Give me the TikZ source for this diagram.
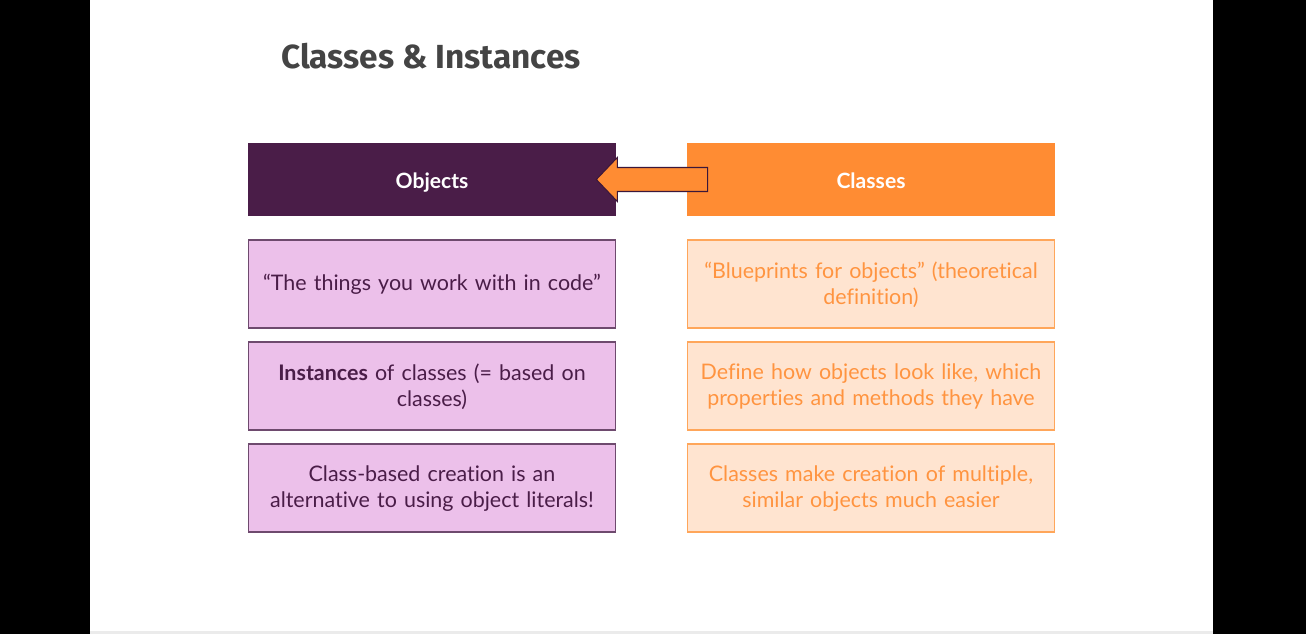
\documentclass[tikz,border=0pt]{standalone}
\usepackage{fontspec}
\setmainfont{Lato}[RawFeature=-liga]
\newfontfamily\titlefont{Fira Sans}
\usetikzlibrary{positioning}

\definecolor{objdark}{HTML}{4A1D48}
\definecolor{objlight}{HTML}{ECC0EA}
\definecolor{objline}{HTML}{6E4A6E}
\definecolor{clsdark}{HTML}{FF8C33}
\definecolor{clslight}{HTML}{FFE4D0}
\definecolor{clsline}{HTML}{FFA65A}
\definecolor{clstext}{HTML}{FF9440}
\definecolor{titlegray}{HTML}{444444}

\tikzset{
  headbox/.style={minimum width=7.36cm, minimum height=1.46cm, inner sep=0pt,
    text height=1.4ex+0.1cm, text depth=0pt,
    text=white, font=\fontsize{12}{14.2}\selectfont\bfseries},
  textbox/.style={line width=0.6pt, minimum width=7.36cm, minimum height=1.76cm,
    text width=7.2cm, align=center, inner sep=0pt,
    execute at end node={\par\vspace{-0.2mm}},
    font=\fontsize{12.2}{14.6}\selectfont},
  objbox/.style={textbox, draw=objline, fill=objlight, text=objdark},
  clsbox/.style={textbox, draw=clsline, fill=clslight, text=clstext}
}

\begin{document}
\begin{tikzpicture}[x=0.02cm, y=-0.02cm]
    \useasboundingbox (0,0) rectangle (1306,634);
    \fill[white] (0,0) rectangle (1306,634);
    \fill[black] (0,0) rectangle (90,634);
    \fill[black] (1213,0) rectangle (1306,634);
    \fill[black!8] (90,631) rectangle (1213,634);

    \node[anchor=base west, text=titlegray, font=\titlefont\fontsize{19}{24}\selectfont\bfseries]
        (title) at (275,69) {Classes \& Instances};

    % headers
    \node[headbox, fill=objdark] (objects) at (432,179.5) {Objects};
    \node[headbox, fill=clsdark] (classes) at (871,179.5) {Classes};

    % left column
    \node[objbox] (obj1) at (432,284) {``The things you work with in code''};
    \node[objbox] (obj2) at (432,386) {\textbf{Instances} of classes (= based on\\ classes)};
    \node[objbox] (obj3) at (432,488) {Class-based creation is an\\ alternative to using object literals!};

    % right column
    \node[clsbox] (cls1) at (871,284) {``Blueprints for objects'' (theoretical\\ definition)};
    \node[clsbox] (cls2) at (871,386) {Define how objects look like, which\\ properties and methods they have};
    \node[clsbox] (cls3) at (871,488) {Classes make creation of multiple,\\ similar objects much easier};

    % block arrow from classes to objects
    \draw[fill=clsdark, draw=objdark!80!black, line width=0.6pt]
        ([xshift=-20*0.02cm]objects.east) -- ++(21,-22) -- ++(0,10) -- ([xshift=21*0.02cm, yshift=12*0.02cm]classes.west)
        -- ++(0,24) -- ([xshift=1*0.02cm, yshift=-12*0.02cm]objects.east) -- ++(0,10) -- cycle;
\end{tikzpicture}
\end{document}
